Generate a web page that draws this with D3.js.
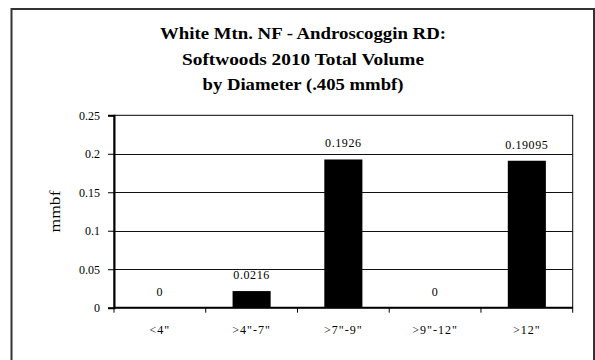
<!DOCTYPE html>
<html>
<head>
<meta charset="utf-8">
<script src="https://cdn.jsdelivr.net/npm/d3@7"></script>
<style>
  html, body { margin: 0; padding: 0; background: #fff; }
  svg { display: block; }
  text { font-family: "Liberation Serif", "Times New Roman", serif; fill: #000; }
</style>
</head>
<body>
<div id="chart"></div>
<script>
const categories = ['<4"', '>4"-7"', '>7"-9"', '>9"-12"', '>12"'];
const values = [0, 0.0216, 0.1926, 0, 0.19095];
const valueLabels = ["0", "0.0216", "0.1926", "0", "0.19095"];
const yTicks = [0, 0.05, 0.1, 0.15, 0.2, 0.25];
const yTickLabels = ["0", "0.05", "0.1", "0.15", "0.2", "0.25"];
const titleLines = ["White Mtn. NF - Androscoggin RD:", "Softwoods 2010 Total Volume", "by Diameter (.405 mmbf)"];
const yLabel = "mmbf";

const W = 595, H = 360;
const svg = d3.select("#chart").append("svg").attr("width", W).attr("height", H);

// outer frame
svg.append("rect")
  .attr("x", 11.5).attr("y", 9).attr("width", 582.5).attr("height", 400)
  .attr("fill", "none").attr("stroke", "#333").attr("stroke-width", 2);

const plot = { left: 114, top: 115.3, right: 572.7, bottom: 307.7 };

const x = d3.scaleBand().domain(categories).range([plot.left, plot.right]).paddingInner(0.585).paddingOuter(0.2925);
const y = d3.scaleLinear().domain([0, 0.25]).range([plot.bottom, plot.top]);

// title
const titleWidths = [286, 242, 201];
const titleBase = [38.5, 64.5, 90];
const t = svg.append("g");
titleLines.forEach((line, i) => {
  t.append("text")
    .attr("x", 303).attr("y", titleBase[i])
    .attr("text-anchor", "middle")
    .attr("font-weight", "bold").attr("font-size", 17)
    .attr("textLength", titleWidths[i]).attr("lengthAdjust", "spacingAndGlyphs")
    .attr("fill", "#000")
    .text(line);
});

// gridlines
svg.append("g").selectAll("line").data(yTicks.filter(d => d > 0 && d < 0.25)).join("line")
  .attr("x1", plot.left).attr("x2", plot.right)
  .attr("y1", d => Math.round(y(d)) + 0.5).attr("y2", d => Math.round(y(d)) + 0.5)
  .attr("stroke", "#111").attr("stroke-width", 1);

// plot border
svg.append("rect")
  .attr("x", plot.left).attr("y", plot.top)
  .attr("width", plot.right - plot.left).attr("height", plot.bottom - plot.top)
  .attr("fill", "none").attr("stroke", "#000").attr("stroke-width", 1);

// bars
svg.append("g").selectAll("rect").data(values).join("rect")
  .attr("x", (d, i) => x(categories[i]))
  .attr("width", x.bandwidth())
  .attr("y", d => y(d))
  .attr("height", d => y(0) - y(d))
  .attr("fill", "#000");

// value labels
svg.append("g").selectAll("text").data(values).join("text")
  .attr("x", (d, i) => x(categories[i]) + x.bandwidth() / 2)
  .attr("y", d => y(d) - 12)
  .attr("text-anchor", "middle")
  .attr("font-size", 12)
  .attr("letter-spacing", 0.6)
  .attr("fill", "#000")
  .text((d, i) => valueLabels[i]);

// y axis
const yAxis = d3.axisLeft(y).tickValues(yTicks).tickFormat((d, i) => yTickLabels[i]).tickSize(6).tickPadding(8);
const gy = svg.append("g").attr("transform", `translate(${plot.left},0)`).call(yAxis);
gy.select(".domain").attr("stroke", "#000").attr("stroke-width", 2);
gy.selectAll(".tick line").attr("stroke", "#000");
gy.selectAll(".tick text").attr("font-size", 12).attr("font-family", '"Liberation Serif", serif').attr("fill", "#000");

// x axis line and boundary ticks
const boundaries = d3.range(categories.length + 1).map(i => plot.left + (plot.right - plot.left) * i / categories.length);
svg.append("line").attr("x1", plot.left).attr("x2", plot.right)
  .attr("y1", y(0)).attr("y2", y(0)).attr("stroke", "#000").attr("stroke-width", 2);
svg.append("g").selectAll("line").data(boundaries).join("line")
  .attr("x1", d => d).attr("x2", d => d)
  .attr("y1", y(0)).attr("y2", y(0) + 5)
  .attr("stroke", "#000");

// x labels
svg.append("g").selectAll("text").data(categories).join("text")
  .attr("x", d => x(d) + x.bandwidth() / 2)
  .attr("y", 334)
  .attr("text-anchor", "middle")
  .attr("font-size", 12)
  .attr("letter-spacing", 1)
  .attr("fill", "#000")
  .text(d => d);

// y label
svg.append("text")
  .attr("transform", `translate(60,${(plot.top + plot.bottom) / 2}) rotate(-90)`)
  .attr("text-anchor", "middle")
  .attr("font-size", 15)
  .attr("textLength", 42).attr("lengthAdjust", "spacingAndGlyphs")
  .attr("fill", "#000")
  .text(yLabel);
</script>
</body>
</html>
